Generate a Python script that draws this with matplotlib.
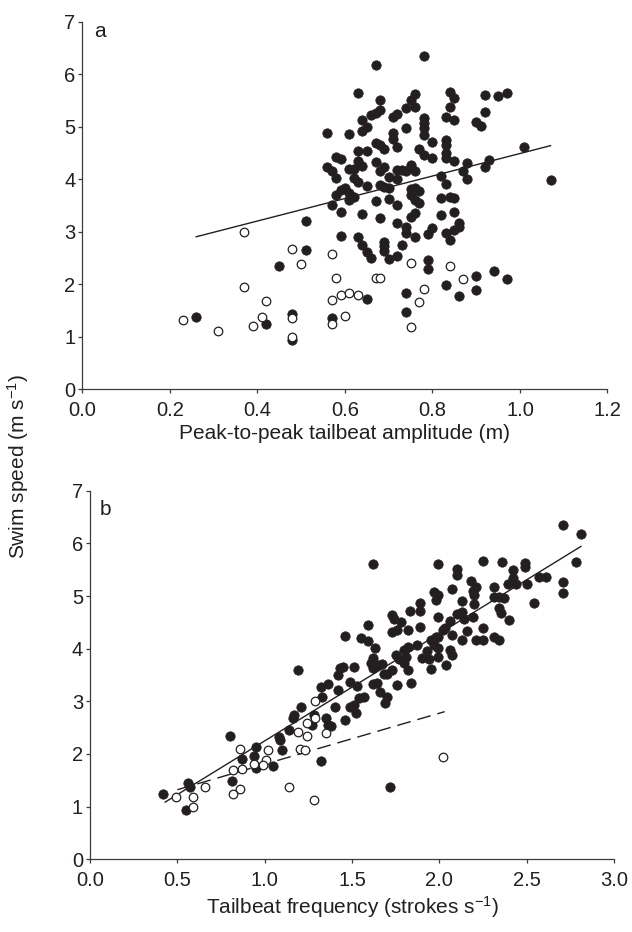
import matplotlib
matplotlib.use("Agg")
import matplotlib.pyplot as plt

plt.rcParams["font.family"] = ["Liberation Sans", "DejaVu Sans"]
plt.rcParams["mathtext.default"] = "regular"
INK = "#231f20"
AX = "#3c3c3c"

# panel a: peak-to-peak tailbeat amplitude (m) vs swim speed (m/s)
amp_fill = [0.63, 0.68, 0.76, 0.75, 0.76, 0.74, 0.84, 0.85, 0.84, 0.92, 0.95, 0.97, 0.92, 0.83, 0.85,
            0.90, 0.91, 0.67, 0.68, 0.66, 0.71, 0.72, 0.64, 0.78, 0.78, 0.78, 0.78, 0.74, 0.56, 0.61,
            0.64, 0.65, 0.71, 0.71, 0.67, 0.68, 0.69, 0.72, 0.80, 0.77, 0.78, 0.80, 0.83, 0.83, 0.83,
            0.83, 0.85, 0.88, 0.92, 0.93, 1.01, 0.63, 0.65, 0.58, 0.59, 0.56, 0.57, 0.58, 0.61, 0.62,
            0.63, 0.64, 0.67, 0.68, 0.69, 0.70, 0.72, 0.72, 0.73, 0.74, 0.75, 0.76, 0.82, 0.83, 0.87,
            0.88, 0.62, 0.63, 0.65, 0.68, 0.69, 0.70, 0.60, 0.59, 0.58, 0.61, 0.62, 0.61, 0.57, 0.59,
            0.64, 0.67, 0.70, 0.72, 0.75, 0.76, 0.77, 0.75, 0.77, 0.76, 0.68, 0.72, 0.75, 0.76, 0.82,
            0.84, 0.85, 0.82, 0.85, 0.86, 0.86, 0.85, 0.83, 0.84, 0.80, 0.79, 0.74, 0.74, 0.76, 0.59,
            0.63, 0.64, 0.65, 0.66, 0.69, 0.69, 0.69, 0.70, 0.72, 0.73, 0.79, 0.79, 0.90, 0.94, 0.97,
            0.67, 0.78, 1.07, 0.90, 0.86, 0.83, 0.74, 0.74, 0.65, 0.57, 0.26, 0.42, 0.45, 0.51, 0.51,
            0.48, 0.48]
spd_fill_a = [5.64, 5.51, 5.63, 5.50, 5.37, 5.35, 5.67, 5.54, 5.38, 5.61, 5.59, 5.64, 5.28, 5.19, 5.13,
              5.09, 5.02, 5.26, 5.31, 5.23, 5.19, 5.24, 5.13, 5.16, 5.07, 4.97, 4.85, 4.97, 4.88, 4.86,
              4.91, 4.99, 4.88, 4.76, 4.69, 4.65, 4.57, 4.62, 4.70, 4.57, 4.46, 4.40, 4.75, 4.65, 4.50,
              4.40, 4.35, 4.30, 4.24, 4.36, 4.61, 4.53, 4.54, 4.43, 4.39, 4.24, 4.15, 4.02, 4.20, 4.20,
              4.35, 4.26, 4.32, 4.16, 4.24, 4.04, 4.18, 4.01, 4.18, 4.16, 4.27, 4.16, 4.06, 3.91, 4.16,
              4.00, 4.02, 3.94, 3.88, 3.89, 3.85, 3.83, 3.83, 3.80, 3.70, 3.73, 3.66, 3.61, 3.51, 3.37,
              3.34, 3.59, 3.62, 3.51, 3.81, 3.83, 3.77, 3.70, 3.54, 3.61, 3.27, 3.16, 3.29, 3.35, 3.64,
              3.67, 3.65, 3.31, 3.37, 3.16, 3.10, 3.03, 2.98, 2.84, 3.07, 2.96, 3.10, 2.97, 2.90, 2.91,
              2.90, 2.75, 2.62, 2.50, 2.81, 2.72, 2.64, 2.48, 2.54, 2.75, 2.46, 2.30, 2.15, 2.25, 2.10,
              6.18, 6.35, 3.99, 1.89, 1.78, 1.98, 1.84, 1.47, 1.72, 1.36, 1.38, 1.24, 2.35, 2.65, 3.21,
              1.43, 0.94]
amp_open = [0.57, 0.75, 0.84, 0.58, 0.67, 0.68, 0.87, 0.50, 0.57, 0.59, 0.61, 0.63, 0.78, 0.77,
            0.60, 0.57, 0.75, 0.37, 0.37, 0.48, 0.42, 0.41, 0.39, 0.23, 0.31, 0.48, 0.48]
spd_open_a = [2.58, 2.40, 2.35, 2.11, 2.11, 2.11, 2.10, 2.39, 1.71, 1.80, 1.84, 1.79, 1.91, 1.67,
              1.40, 1.24, 1.19, 2.99, 1.94, 2.68, 1.68, 1.37, 1.21, 1.32, 1.11, 1.36, 1.00]
fit_a_x = [0.26, 1.07]
fit_a = (2.142, 2.348)  # slope, intercept

# panel b: tailbeat frequency (strokes/s) vs swim speed (m/s)
frq_fill = [1.62, 1.99, 2.10, 2.10, 2.25, 2.36, 2.49, 2.49, 2.42, 2.42, 2.39, 2.44, 2.50, 2.57, 2.61,
            2.31, 2.18, 2.21, 2.19, 2.20, 2.07, 1.97, 1.99, 1.98, 1.89, 1.89, 1.83, 2.13, 2.20, 2.31,
            2.34, 2.37, 2.34, 2.35, 2.40, 2.54, 2.10, 2.13, 2.14, 2.19, 1.99, 2.06, 2.03, 2.07, 2.13,
            2.16, 2.21, 2.25, 2.25, 2.31, 2.34, 1.73, 1.74, 1.78, 1.89, 1.82, 1.73, 1.76, 1.59, 1.46,
            1.55, 1.59, 1.63, 1.62, 1.61, 1.65, 1.62, 1.67, 1.75, 1.77, 1.80, 1.82, 1.81, 1.80, 1.82,
            1.87, 1.95, 1.98, 1.99, 1.97, 1.93, 1.90, 1.94, 1.99, 1.99, 1.95, 2.04, 2.06, 2.07, 2.02,
            1.73, 1.70, 1.68, 1.64, 1.62, 1.76, 1.84, 1.66, 1.70, 1.69, 1.45, 1.42, 1.43, 1.51, 1.49,
            1.53, 1.42, 1.54, 1.57, 1.51, 1.49, 1.52, 1.40, 1.46, 1.38,
            1.32, 1.36, 1.33, 1.21, 1.17, 1.16, 1.28, 1.27, 1.35, 1.36, 1.14, 1.08, 1.09, 1.10, 0.95,
            0.87, 0.94, 0.95, 1.05, 1.32, 0.81, 1.72, 0.80, 0.42, 0.56, 0.57, 0.55, 1.19,
            2.71, 2.81, 2.78, 2.71, 2.71]
spd_fill_b = [5.60, 5.61, 5.52, 5.39, 5.66, 5.64, 5.63, 5.55, 5.49, 5.34, 5.23, 5.23, 5.22, 5.36, 5.37,
              5.17, 5.28, 5.18, 5.09, 5.01, 5.13, 5.08, 5.01, 4.93, 4.87, 4.71, 4.71, 4.91, 4.84, 4.98,
              4.98, 4.96, 4.77, 4.68, 4.54, 4.87, 4.66, 4.69, 4.56, 4.61, 4.61, 4.52, 4.39, 4.26, 4.17,
              4.33, 4.17, 4.17, 4.40, 4.23, 4.17, 4.64, 4.56, 4.51, 4.42, 4.35, 4.31, 4.35, 4.45, 4.25,
              4.21, 4.15, 4.01, 3.82, 3.73, 3.69, 3.63, 3.71, 3.88, 3.80, 3.98, 4.03, 3.85, 3.73, 3.60,
              4.07, 4.17, 4.22, 4.23, 4.07, 3.95, 3.82, 3.80, 4.01, 3.85, 3.61, 3.69, 3.98, 3.88, 4.36,
              3.60, 3.52, 3.52, 3.35, 3.33, 3.31, 3.35, 3.17, 3.09, 2.97, 3.66, 3.50, 3.63, 3.65, 3.36,
              3.30, 3.21, 3.06, 3.08, 2.93, 2.90, 2.78, 2.90, 2.64, 2.53,
              3.28, 3.33, 3.09, 2.90, 2.74, 2.68, 2.74, 2.55, 2.68, 2.55, 2.46, 2.32, 2.26, 2.08, 2.14,
              1.90, 1.96, 1.73, 1.77, 1.86, 1.48, 1.38, 2.35, 1.24, 1.45, 1.38, 0.94, 3.60,
              6.34, 6.18, 5.64, 5.27, 5.06]
frq_open = [1.29, 1.29, 1.24, 1.19, 1.24, 1.35, 1.20, 1.23, 1.02, 1.01, 0.99, 0.86, 0.94, 0.87,
            0.82, 0.86, 0.82, 1.14, 1.28, 0.49, 0.59, 0.59, 0.66, 2.02]
spd_open_b = [3.00, 2.68, 2.59, 2.41, 2.34, 2.40, 2.10, 2.08, 2.08, 1.89, 1.79, 2.09, 1.81, 1.71,
              1.69, 1.33, 1.24, 1.38, 1.13, 1.19, 1.19, 1.00, 1.37, 1.95]
fit_b_x = [0.43, 2.81]
fit_b = (2.04, 0.209)
fit_b_open_x = [0.50, 2.03]
fit_b_open = (0.969, 0.837)

fig = plt.figure(figsize=(6.32, 9.32), dpi=100)
ax_a = fig.add_axes([0.1305, 0.5823, 0.8307, 0.3944])
ax_b = fig.add_axes([0.1424, 0.0780, 0.8293, 0.3955])


def style(ax, xmax, xstep):
    ax.set_ylim(0, 7)
    ax.set_xlim(0, xmax)
    ax.set_yticks(range(8))
    ax.set_xticks([round(i * xstep, 2) for i in range(int(round(xmax / xstep)) + 1)])
    ax.xaxis.set_major_formatter(matplotlib.ticker.FormatStrFormatter("%.1f"))
    for s in ("top", "right"):
        ax.spines[s].set_visible(False)
    for s in ("left", "bottom"):
        ax.spines[s].set_color(AX)
        ax.spines[s].set_linewidth(0.9)
    ax.tick_params(direction="out", length=3, width=0.9, color=AX,
                   labelsize=14.5, labelcolor=INK)
    ax.tick_params(axis="x", pad=5.5)
    ax.tick_params(axis="y", pad=2)


def dots(ax, xf, yf, xo, yo):
    ax.scatter(xf, yf, s=46, color=INK, edgecolors=INK, linewidths=0.5, zorder=3,
               clip_on=False)
    ax.scatter(xo, yo, s=38, facecolors="white", edgecolors=INK, linewidths=0.9,
               zorder=4, clip_on=False)


style(ax_a, 1.2, 0.2)
dots(ax_a, amp_fill, spd_fill_a, amp_open, spd_open_a)
ax_a.plot(fit_a_x, [fit_a[0] * x + fit_a[1] for x in fit_a_x], color=INK, lw=1.0, zorder=2)
ax_a.set_xlabel("Peak-to-peak tailbeat amplitude (m)", fontsize=15, color=INK, labelpad=3)
ax_a.text(0.022, 0.958, "a", transform=ax_a.transAxes, fontsize=15, color=INK)

style(ax_b, 3.0, 0.5)
dots(ax_b, frq_fill, spd_fill_b, frq_open, spd_open_b)
ax_b.plot(fit_b_x, [fit_b[0] * x + fit_b[1] for x in fit_b_x], color=INK, lw=1.0, zorder=2)
ax_b.plot(fit_b_open_x, [fit_b_open[0] * x + fit_b_open[1] for x in fit_b_open_x],
          color=INK, lw=1.0, ls=(0, (10, 5)), zorder=2)
ax_b.set_xlabel("Tailbeat frequency (strokes s$^{-1}$)", fontsize=15, color=INK, labelpad=3)
ax_b.text(0.018, 0.934, "b", transform=ax_b.transAxes, fontsize=15, color=INK)

fig.text(18 / 632, 1 - 466 / 932, "Swim speed (m s$^{-1}$)", rotation=90,
         ha="center", va="center", fontsize=15, color=INK)

fig.savefig("out.png", dpi=100)
